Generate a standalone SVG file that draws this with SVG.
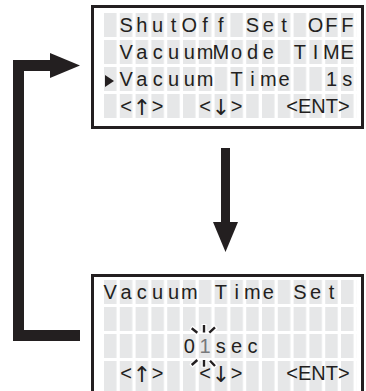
<svg xmlns="http://www.w3.org/2000/svg" width="366" height="391" viewBox="0 0 366 391">
<defs>
<style>
.box{fill:#fff;stroke:#231f20;stroke-width:3}
.lcd{font-family:"Liberation Sans",Arial,sans-serif;font-size:20px;fill:#231f20;text-anchor:middle}
.ua{font-family:"DejaVu Sans",sans-serif;font-size:22px}
.arr{fill:#231f20}
.ray{stroke:#231f20;stroke-width:2.4;stroke-linecap:butt}
.halo{stroke:#fff;stroke-width:5}
</style>
<pattern id="cells" patternUnits="userSpaceOnUse" x="104" y="13" width="15.8" height="27">
<rect x="0" y="0" width="12.5" height="24" fill="#e6e7e8"/>
</pattern>
<pattern id="cellsB" patternUnits="userSpaceOnUse" x="104" y="280" width="15.8" height="27">
<rect x="0" y="0" width="12.5" height="24" fill="#e6e7e8"/>
</pattern>
<pattern id="cellsB4" patternUnits="userSpaceOnUse" x="104" y="361" width="15.8" height="40">
<rect x="0" y="0" width="12.5" height="40" fill="#e6e7e8"/>
</pattern>
</defs>
<rect width="366" height="391" fill="#fff"/>

<g id="connectors">
<path d="M80,335.5 H18.5 V65.5 H52" fill="none" stroke="#231f20" stroke-width="11"/>
<polygon class="arr" points="50,53 80,65.5 50,78"/>
<line x1="225.5" y1="148" x2="225.5" y2="223" stroke="#231f20" stroke-width="9"/>
<polygon class="arr" points="213,222 238,222 225.5,252"/>
</g>

<g id="menu-screen">
<rect class="box" x="92.5" y="6.5" width="270" height="121"/>
<rect x="104" y="13" width="252.8" height="108" fill="url(#cells)"/>
<text class="lcd" y="32"><tspan x="126.05 141.85 157.65 173.45 189.25 205.05 220.85">ShutOff</tspan><tspan x="252.45 268.25 284.05">Set</tspan><tspan x="315.65 331.45 347.25">OFF</tspan></text>
<text class="lcd" y="59"><tspan x="126.05 141.85 157.65 173.45 189.25 205.05 220.85 236.65 252.45 268.25">VacuumMode</tspan><tspan x="299.85 315.65 331.45 347.25">TIME</tspan></text>
<polygon class="arr" points="105,75 114,81 105,87"/>
<text class="lcd" y="86"><tspan x="126.05 141.85 157.65 173.45 189.25 205.05">Vacuum</tspan><tspan x="236.65 252.45 268.25 284.05">Time</tspan><tspan x="331.45 347.25">1s</tspan></text>
<text class="lcd" y="113"><tspan x="126.05">&lt;</tspan><tspan x="141.85" y="115" class="ua">↑</tspan><tspan x="157.65" y="113">&gt;</tspan><tspan x="205.05">&lt;</tspan><tspan x="220.85" y="115" class="ua">↓</tspan><tspan x="236.65" y="113">&gt;</tspan><tspan x="318">&lt;ENT&gt;</tspan></text>
</g>

<g id="set-screen">
<rect class="box" x="92.5" y="275.5" width="270" height="130"/>
<rect x="104" y="280" width="252.8" height="81" fill="url(#cellsB)"/>
<rect x="104" y="361" width="252.8" height="30" fill="url(#cellsB4)"/>
<text class="lcd" y="299"><tspan x="110.25 126.05 141.85 157.65 173.45 189.25">Vacuum</tspan><tspan x="220.85 236.65 252.45 268.25">Time</tspan><tspan x="299.85 315.65 331.45">Set</tspan></text>
<g id="blink">
<g class="halo">
<line x1="204" y1="324" x2="204" y2="333"/>
<line x1="191" y1="327.5" x2="198" y2="333"/>
<line x1="216" y1="326.5" x2="209.5" y2="333"/>
<line x1="204" y1="359.5" x2="204" y2="367.5"/>
<line x1="191" y1="366" x2="197.5" y2="360"/>
<line x1="216" y1="367" x2="210" y2="360.5"/>
</g>
<g class="ray">
<line x1="204" y1="325" x2="204" y2="332.5"/>
<line x1="191.7" y1="328.3" x2="197.3" y2="332.7"/>
<line x1="215" y1="327.3" x2="209.3" y2="332.7"/>
<line x1="204" y1="360" x2="204" y2="366.7"/>
<line x1="191.7" y1="365" x2="197.3" y2="360"/>
<line x1="215" y1="366" x2="210" y2="360.7"/>
</g>
</g>
<text class="lcd" y="353"><tspan x="189.25">0</tspan><tspan x="205.05" fill="#77787b">1</tspan><tspan x="220.85 236.65 252.45">sec</tspan></text>
<text class="lcd" y="380"><tspan x="126.05">&lt;</tspan><tspan x="141.85" y="382" class="ua">↑</tspan><tspan x="157.65" y="380">&gt;</tspan><tspan x="205.05">&lt;</tspan><tspan x="220.85" y="382" class="ua">↓</tspan><tspan x="236.65" y="380">&gt;</tspan><tspan x="318">&lt;ENT&gt;</tspan></text>
</g>
</svg>
